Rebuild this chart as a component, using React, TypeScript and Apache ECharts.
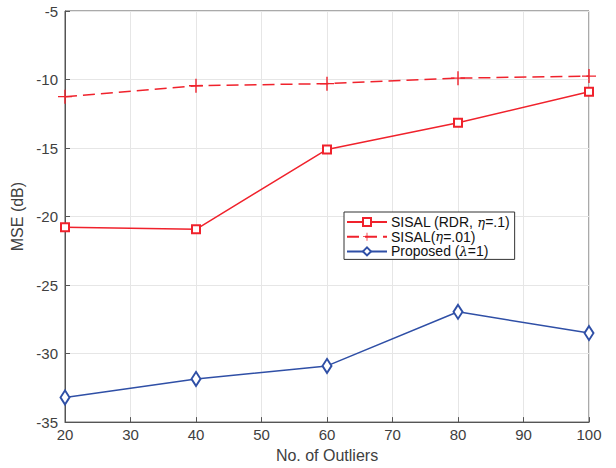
import React, { useEffect, useRef } from "react";
import * as echarts from "echarts";

const outliers = [20, 40, 60, 80, 100];
const sisalRdr = [-20.78, -20.93, -15.1, -13.15, -10.9];
const sisal01 = [-11.25, -10.45, -10.3, -9.9, -9.75];
const proposed = [-33.2, -31.85, -30.9, -26.95, -28.5];
const seriesNames = ["SISAL (RDR, η=.1)", "SISAL(η=.01)", "Proposed (λ=1)"];

const RED = "#f0222c";
const BLUE = "#2f4fa6";
const FONT = "'Liberation Sans', Arial, Helvetica, sans-serif";
const plus = "path://M0,6.3H14V7.7H0Z M6.3,0H7.7V14H6.3Z";

export default function App() {
  const ref = useRef<HTMLDivElement>(null);
  useEffect(() => {
    const chart = echarts.init(ref.current!, null, { renderer: "svg" });
    const pair = (ys: number[]) => outliers.map((x, i) => [x, ys[i]]);
    chart.setOption({
      animation: false,
      backgroundColor: "#ffffff",
      textStyle: { fontFamily: FONT },
      grid: { left: 65, right: 27, top: 11, bottom: 45, show: true, borderColor: "#555", borderWidth: 1, backgroundColor: "transparent" },
      xAxis: {
        type: "value", min: 20, max: 100, interval: 10,
        name: "No. of Outliers", nameLocation: "middle", nameGap: 19,
        nameTextStyle: { fontSize: 16, color: "#404040", fontFamily: FONT },
        axisLine: { show: true, lineStyle: { color: "#555", width: 1 } },
        axisTick: { show: true, inside: true, length: 5, lineStyle: { color: "#555" } },
        axisLabel: { fontSize: 15, color: "#404040", margin: 5, fontFamily: FONT },
        splitLine: { show: true, lineStyle: { color: "#e6e6e6", width: 1 } },
      },
      yAxis: {
        type: "value", min: -35, max: -5, interval: 5,
        name: "MSE (dB)", nameLocation: "middle", nameGap: 30, nameRotate: 90,
        nameTextStyle: { fontSize: 16, color: "#404040", fontFamily: FONT },
        axisLine: { show: true, lineStyle: { color: "#555", width: 1 } },
        axisTick: { show: true, inside: true, length: 5, lineStyle: { color: "#555" } },
        axisLabel: { fontSize: 15, color: "#404040", margin: 7, fontFamily: FONT },
        splitLine: { show: true, lineStyle: { color: "#e6e6e6", width: 1 } },
      },
      legend: {
        left: 344, top: 212, orient: "vertical",
        data: seriesNames,
        itemWidth: 40, itemHeight: 10, itemGap: 0.7,
        padding: [3, 5, 1, 2],
        backgroundColor: "#fff", borderColor: "#333", borderWidth: 1, borderRadius: 0,
        textStyle: {
          fontSize: 14, color: "#111", fontFamily: FONT, lineHeight: 12, padding: [0, 0, 0, -1],
          rich: { i: { fontStyle: "italic", fontFamily: "'DejaVu Serif', serif", fontSize: 13, color: "#111", lineHeight: 12 } },
        },
        formatter: (n: string) => n.replace(/([ηλ])/g, "{i|$1}"),
      },
      series: [
        {
          name: seriesNames[0], type: "line", data: pair(sisalRdr),
          symbol: "emptyRect", symbolSize: 8,
          lineStyle: { color: RED, width: 1.5 },
          itemStyle: { color: RED, borderColor: RED, borderWidth: 1.5 },
        },
        {
          name: seriesNames[1], type: "line", data: pair(sisal01),
          symbol: plus, symbolSize: 14,
          lineStyle: { color: RED, width: 1.5, type: [12, 6] },
          itemStyle: { color: RED, borderWidth: 0 },
        },
        {
          name: seriesNames[2], type: "line", data: pair(proposed),
          symbol: "emptyDiamond", symbolSize: [9, 14],
          lineStyle: { color: BLUE, width: 1.5 },
          itemStyle: { color: BLUE, borderColor: BLUE, borderWidth: 1.5 },
        },
      ],
    });
    return () => chart.dispose();
  }, []);
  return <div ref={ref} style={{ width: 616, height: 468, position: "absolute", left: 0, top: 0 }} />;
}
